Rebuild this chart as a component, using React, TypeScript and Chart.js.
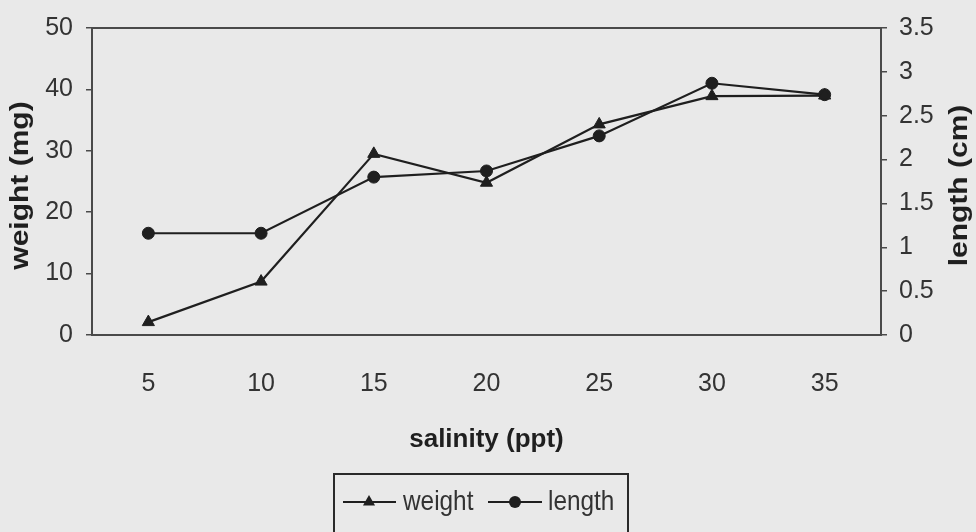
import React, { useEffect, useRef } from 'react';
import { Chart, registerables } from 'chart.js';

Chart.register(...registerables);

// ---- data ----
const salinityPpt = ['5', '10', '15', '20', '25', '30', '35'];
const weightMg = [2.1, 8.7, 29.5, 24.8, 34.3, 38.9, 39.0];
const lengthCm = [1.16, 1.16, 1.8, 1.87, 2.27, 2.87, 2.74];
const weightTicks = [0, 10, 20, 30, 40, 50];
const lengthTicks = [0, 0.5, 1, 1.5, 2, 2.5, 3, 3.5];

const weightLabel = 'weight';
const lengthLabel = 'length';
const yLeftTitle = 'weight (mg)';
const yRightTitle = 'length (cm)';
const xTitle = 'salinity (ppt)';

// ---- styles ----
const BG = '#e9e9e9';
const INK = '#1f1f1f';
const TICK_INK = '#333333';
const FRAME = '#4a4a4a';
const SANS = '"Liberation Sans", Arial, sans-serif';

function drawTriangle(ctx: CanvasRenderingContext2D, x: number, y: number, r: number) {
  ctx.beginPath();
  ctx.moveTo(x, y - r);
  ctx.lineTo(x - r * 0.866, y + r * 0.5);
  ctx.lineTo(x + r * 0.866, y + r * 0.5);
  ctx.closePath();
  ctx.fill();
}

function drawNarrowText(ctx: CanvasRenderingContext2D, text: string, x: number, y: number, sx: number) {
  ctx.save();
  ctx.translate(x, y);
  ctx.scale(sx, 1);
  ctx.fillText(text, 0, 0);
  ctx.restore();
}

const decorPlugin = {
  id: 'decor',
  beforeDraw(chart: any) {
    const { ctx, width, height } = chart;
    ctx.save();
    ctx.fillStyle = BG;
    ctx.fillRect(0, 0, width, height);
    ctx.restore();
  },
  beforeDatasetsDraw(chart: any) {
    const { ctx, chartArea: a } = chart;
    ctx.save();
    ctx.strokeStyle = FRAME;
    ctx.lineWidth = 2;
    ctx.strokeRect(a.left, a.top, a.right - a.left, a.bottom - a.top);
    ctx.restore();
  },
  afterDraw(chart: any) {
    const { ctx, chartArea: a } = chart;
    const midY = (a.top + a.bottom) / 2 + 4;
    ctx.save();
    ctx.fillStyle = INK;
    ctx.textAlign = 'center';
    ctx.textBaseline = 'middle';
    ctx.font = `bold 25px ${SANS}`;

    ctx.save();
    ctx.translate(21, midY);
    ctx.rotate(-Math.PI / 2);
    ctx.scale(1.2, 1);
    ctx.fillText(yLeftTitle, 0, 0);
    ctx.restore();

    ctx.save();
    ctx.translate(960, midY);
    ctx.rotate(-Math.PI / 2);
    ctx.scale(1.2, 1);
    ctx.fillText(yRightTitle, 0, 0);
    ctx.restore();

    ctx.font = `bold 26px ${SANS}`;
    ctx.fillText(xTitle, (a.left + a.right) / 2, 440);

    // legend box
    const bx = 334, by = 474, bw = 294, bh = 80;
    ctx.strokeStyle = '#2a2a2a';
    ctx.lineWidth = 2;
    ctx.strokeRect(bx, by, bw, bh);

    const ly = 502;
    ctx.strokeStyle = INK;
    ctx.fillStyle = INK;
    ctx.lineWidth = 2;
    // weight entry
    ctx.beginPath();
    ctx.moveTo(343, ly);
    ctx.lineTo(396, ly);
    ctx.stroke();
    drawTriangle(ctx, 369, ly, 7);
    // length entry
    ctx.beginPath();
    ctx.moveTo(488, ly);
    ctx.lineTo(542, ly);
    ctx.stroke();
    ctx.beginPath();
    ctx.arc(515, ly, 6, 0, Math.PI * 2);
    ctx.fill();

    ctx.font = `28px ${SANS}`;
    ctx.fillStyle = TICK_INK;
    ctx.textAlign = 'left';
    drawNarrowText(ctx, weightLabel, 403, ly, 0.87);
    drawNarrowText(ctx, lengthLabel, 548, ly, 0.87);
    ctx.restore();
  },
};

export default function App() {
  const ref = useRef<HTMLCanvasElement | null>(null);

  useEffect(() => {
    document.body.style.margin = '0';
    const canvas = ref.current;
    if (!canvas) return;
    const tickFont = { family: SANS, size: 25 };
    const chart = new Chart(canvas, {
      type: 'line',
      data: {
        labels: salinityPpt,
        datasets: [
          {
            label: weightLabel,
            data: weightMg,
            yAxisID: 'y',
            borderColor: INK,
            backgroundColor: INK,
            borderWidth: 2.2,
            pointStyle: 'triangle',
            pointRadius: 7,
            pointBorderWidth: 1,
            pointBackgroundColor: INK,
            pointBorderColor: INK,
            tension: 0,
          },
          {
            label: lengthLabel,
            data: lengthCm,
            yAxisID: 'y1',
            borderColor: INK,
            backgroundColor: INK,
            borderWidth: 2.2,
            pointStyle: 'circle',
            pointRadius: 6,
            pointBorderWidth: 1,
            pointBackgroundColor: INK,
            pointBorderColor: INK,
            tension: 0,
          },
        ],
      },
      options: {
        responsive: false,
        animation: false,
        devicePixelRatio: 1,
        layout: { padding: { top: 21, left: 0, right: 0, bottom: 0 } },
        plugins: {
          legend: { display: false },
          tooltip: { enabled: false },
          title: { display: false },
        },
        scales: {
          x: {
            type: 'category',
            offset: true,
            grid: { display: false, drawTicks: false },
            border: { display: false },
            ticks: {
              color: TICK_INK,
              padding: 34,
              maxRotation: 0,
              font: tickFont,
            },
            afterFit: (s: any) => {
              s.height = 197;
            },
          },
          y: {
            type: 'linear',
            position: 'left',
            min: 0,
            max: 50,
            afterBuildTicks: (s: any) => {
              s.ticks = weightTicks.map((v) => ({ value: v }));
            },
            grid: { display: true, drawOnChartArea: false, drawTicks: true, tickLength: 6, color: FRAME, lineWidth: 1.5 },
            border: { display: false },
            ticks: {
              color: TICK_INK,
              padding: 13,
              font: tickFont,
              callback: (v: any) => String(v),
            },
            afterFit: (s: any) => {
              s.width = 92;
            },
          },
          y1: {
            type: 'linear',
            position: 'right',
            min: 0,
            max: 3.5,
            afterBuildTicks: (s: any) => {
              s.ticks = lengthTicks.map((v) => ({ value: v }));
            },
            grid: { display: true, drawOnChartArea: false, drawTicks: true, tickLength: 6, color: FRAME, lineWidth: 1.5 },
            border: { display: false },
            ticks: {
              color: TICK_INK,
              padding: 12,
              font: tickFont,
              callback: (v: any) => String(v),
            },
            afterFit: (s: any) => {
              s.width = 95;
            },
          },
        },
      },
      plugins: [decorPlugin],
    });
    return () => chart.destroy();
  }, []);

  return (
    <div style={{ width: 976, height: 532 }}>
      <canvas ref={ref} width={976} height={532} style={{ display: 'block', width: 976, height: 532 }} />
    </div>
  );
}
